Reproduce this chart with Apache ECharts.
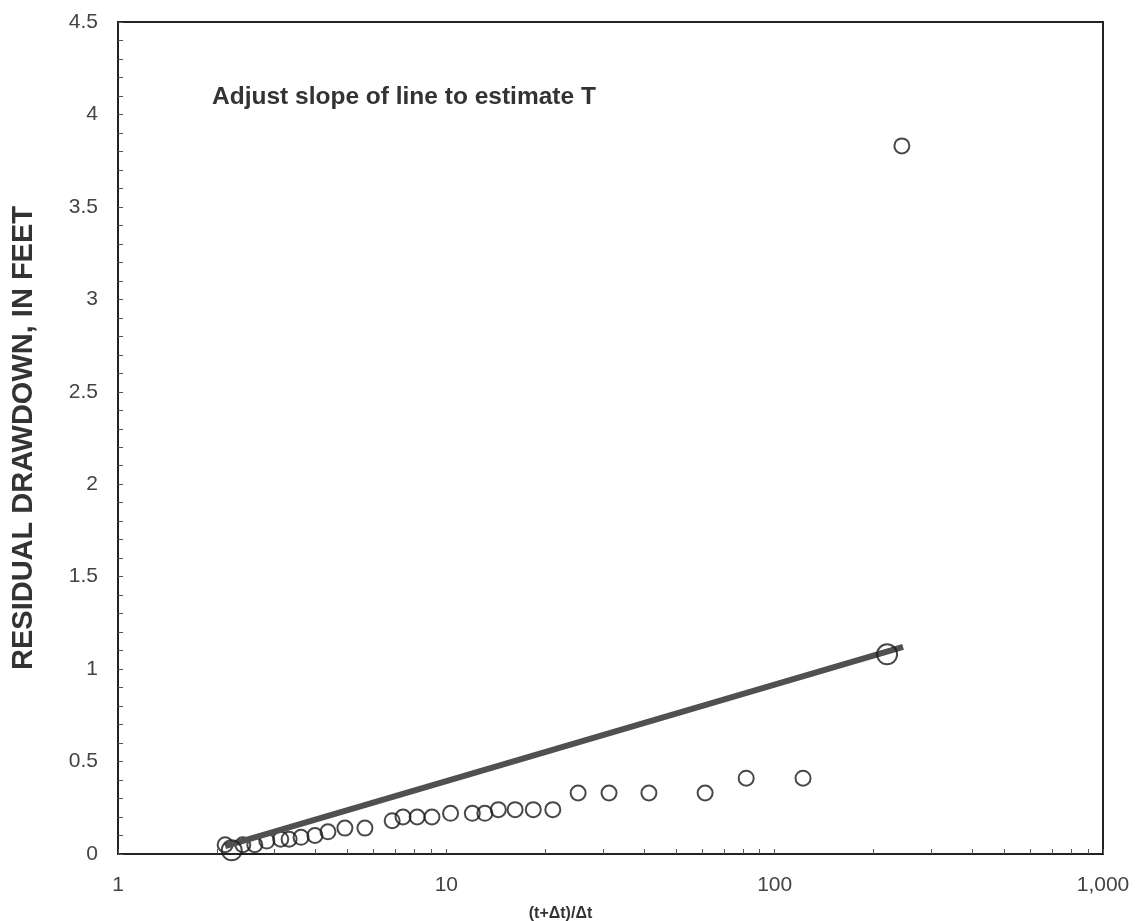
<!DOCTYPE html>
<html>
<head>
<meta charset="utf-8">
<title>Residual drawdown</title>
<script src="https://cdn.jsdelivr.net/npm/echarts@6/dist/echarts.min.js"></script>
<style>
    html, body { margin: 0; padding: 0; background: #fff; }
    #chart { width: 1139px; height: 921px; }
</style>
</head>
<body>
<div id="chart"></div>
<script>
    // measured recovery data, (t+dt)/dt vs residual drawdown (ft)
    var ratio = [2.12, 2.40, 2.61, 2.84, 3.13, 3.32, 3.61, 3.98, 4.36, 4.91, 5.65,
        6.84, 7.38, 8.15, 9.04, 10.3, 12.0, 13.1, 14.4, 16.2, 18.4, 21.1,
        25.2, 31.3, 41.4, 61.4, 81.9, 122, 244];
    var drawdown = [0.05, 0.05, 0.05, 0.07, 0.08, 0.08, 0.09, 0.10, 0.12, 0.14, 0.14,
        0.18, 0.20, 0.20, 0.20, 0.22, 0.22, 0.22, 0.24, 0.24, 0.24, 0.24,
        0.33, 0.33, 0.33, 0.33, 0.41, 0.41, 3.83];

    // straight-line fit and its two drag handles
    var fitX = [2.12, 246];
    var fitY = [0.043, 1.12];
    var handleX = [2.22, 220];
    var handleY = [0.02, 1.08];

    var xMajor = [1, 10, 100, 1000];
    var xTicks = [1, 2, 3, 4, 5, 6, 7, 8, 9, 10, 20, 30, 40, 50, 60, 70, 80, 90,
        100, 200, 300, 400, 500, 600, 700, 800, 900, 1000];

    function pairs(xs, ys) {
        return xs.map(function (x, i) { return [x, ys[i]]; });
    }

    var chart = echarts.init(document.getElementById('chart'));
    var font = 'Liberation Sans, Arial, Helvetica, sans-serif';

    chart.setOption({
        animation: false,
        grid: {
            left: 118,
            right: 36,
            top: 22,
            bottom: 67,
            outerBoundsMode: 'none',
            show: true,
            borderColor: '#222',
            borderWidth: 2,
            backgroundColor: 'transparent'
        },
        xAxis: {
            type: 'log',
            logBase: 10,
            min: 1,
            max: 1000,
            name: '(t+\u0394t)/\u0394t',
            nameLocation: 'middle',
            nameGap: 52,
            nameTextStyle: {
                fontFamily: font,
                fontSize: 16,
                fontWeight: 'bold',
                color: '#333',
                padding: [0, 100, 0, 0]
            },
            axisLine: { lineStyle: { color: '#222', width: 2 } },
            axisTick: {
                inside: true,
                length: 5,
                customValues: xTicks,
                lineStyle: { color: '#555' }
            },
            axisLabel: {
                customValues: xMajor,
                margin: 21,
                fontFamily: font,
                fontSize: 21,
                color: '#444',
                formatter: function (v) { return Number(v).toLocaleString('en-US'); }
            },
            splitLine: { show: false },
            minorTick: { show: false }
        },
        yAxis: {
            type: 'value',
            min: 0,
            max: 4.5,
            interval: 0.5,
            name: 'RESIDUAL DRAWDOWN, IN FEET',
            nameLocation: 'middle',
            nameGap: 80,
            nameTextStyle: {
                fontFamily: font,
                fontSize: 29,
                fontWeight: 'bold',
                color: '#333'
            },
            axisLine: { show: true, lineStyle: { color: '#222', width: 2 } },
            axisTick: { inside: true, length: 5, lineStyle: { color: '#555' } },
            minorTick: { show: true, splitNumber: 5, length: 5, lineStyle: { color: '#555' } },
            axisLabel: {
                margin: 20,
                fontFamily: font,
                fontSize: 21,
                color: '#444'
            },
            splitLine: { show: false }
        },
        graphic: [{
            type: 'text',
            left: 212,
            top: 85,
            style: {
                text: 'Adjust slope of line to estimate T',
                fontFamily: font,
                fontSize: 24.5,
                fontWeight: 'bold',
                fill: '#333'
            }
        }],
        series: [
            {
                name: 'observed',
                type: 'scatter',
                symbol: 'circle',
                symbolSize: 15,
                itemStyle: { color: 'rgba(0,0,0,0)', borderColor: '#1a1a1a', borderWidth: 2 },
                data: pairs(ratio, drawdown),
                z: 2
            },
            {
                name: 'fit',
                type: 'line',
                showSymbol: false,
                symbol: 'none',
                lineStyle: { color: '#505050', width: 6 },
                data: pairs(fitX, fitY),
                z: 3
            },
            {
                name: 'handles',
                type: 'scatter',
                symbol: 'circle',
                symbolSize: 20,
                itemStyle: { color: 'rgba(0,0,0,0)', borderColor: '#1a1a1a', borderWidth: 2 },
                data: pairs(handleX, handleY),
                z: 4
            }
        ]
    });
</script>
</body>
</html>
